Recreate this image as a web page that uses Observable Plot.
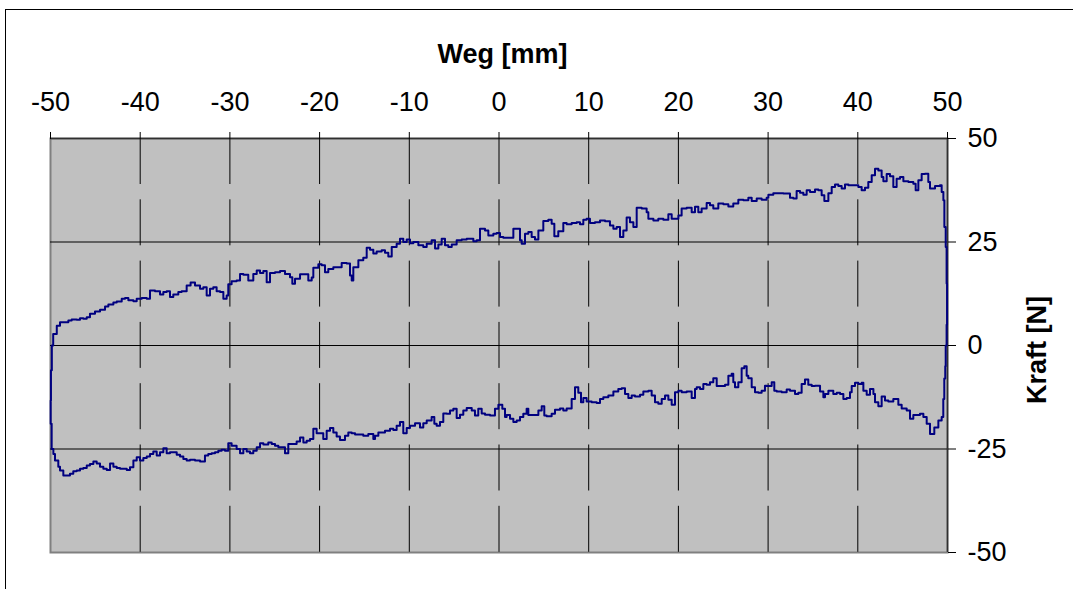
<!DOCTYPE html>
<html><head><meta charset="utf-8">
<script src="https://cdn.jsdelivr.net/npm/d3@7"></script>
<script src="https://cdn.jsdelivr.net/npm/@observablehq/plot@0.6"></script>
<style>
html,body{margin:0;padding:0;background:#fff;overflow:hidden;}
#wrap{position:relative;width:1073px;height:589px;overflow:hidden;}
#chart{position:absolute;left:0;top:0;}
.bl{position:absolute;background:#000;pointer-events:none;z-index:2;}
#bt{left:5px;top:9px;width:1100px;height:1px;}
#bv{left:5px;top:9px;width:1px;height:700px;}
</style></head><body>
<div id="wrap"><div id="chart"></div><div class="bl" id="bt"></div><div class="bl" id="bv"></div></div>
<script>
// Tick labels / grid positions
const wegTicks = [-50, -40, -30, -20, -10, 0, 10, 20, 30, 40, 50];
const kraftTicks = [-50, -25, 0, 25, 50];
const gridWeg = [-40, -30, -20, -10, 0, 10, 20, 30, 40];
const gridKraft = [-25, 0, 25];

// Upper branch (Hinweg): left rise, left -> right, right drop
const wegHin = [-49.68, -49.87, -49.98, -49.95, -49.85, -49.7, -49.3, -48.94, -48.01, -47.64, -47.08, -46.71, -46.34, -45.96, -45.6, -45.04, -44.48, -43.92, -43.55, -42.99, -42.62, -42.06, -41.69, -41.32, -40.76, -40.39, -39.83, -39.27, -38.91, -38.35, -37.79, -37.42, -37.05, -36.68, -36.31, -35.75, -35.38, -34.82, -34.38, -33.89, -33.33, -32.96, -32.59, -32.22, -31.85, -31.48, -31.1, -30.73, -30.36, -30.18, -29.81, -29.25, -28.87, -28.5, -27.95, -27.39, -27.01, -26.64, -26.27, -25.9, -25.53, -24.97, -24.41, -23.86, -23.3, -23.04, -22.74, -22.18, -21.63, -21.26, -20.88, -20.7, -20.14, -19.77, -19.4, -19.03, -18.47, -17.91, -17.54, -16.98, -16.61, -16.42, -16.24, -15.68, -15.13, -14.75, -14.38, -14.01, -13.64, -13.08, -12.71, -12.34, -11.96, -11.41, -11.04, -10.67, -10.29, -9.92, -9.55, -8.99, -8.44, -8.06, -7.51, -7.13, -6.76, -6.39, -6.02, -5.65, -5.27, -4.72, -4.16, -3.6, -3.23, -2.86, -2.49, -2.12, -1.56, -1.19, -0.63, -0.26, 0.11, 0.48, 1.41, 1.6, 2.08, 2.34, 2.53, 2.9, 3.27, 3.64, 4.01, 4.39, 4.94, 5.5, 5.87, 6.17, 6.61, 7.17, 7.54, 8.1, 8.66, 9.03, 9.4, 9.77, 10.14, 10.7, 11.26, 11.82, 12.37, 12.75, 13.12, 13.49, 13.86, 14.23, 14.6, 14.98, 15.35, 15.91, 16.46, 16.65, 17.21, 17.76, 18.32, 18.88, 19.25, 19.62, 20.0, 20.36, 20.92, 21.48, 21.85, 22.22, 22.59, 23.15, 23.52, 23.89, 24.45, 25.01, 25.57, 26.12, 26.68, 27.24, 27.8, 28.17, 28.73, 29.28, 29.84, 30.03, 30.58, 31.14, 31.7, 32.44, 32.81, 33.18, 33.56, 33.93, 34.3, 34.67, 35.23, 35.6, 35.97, 36.27, 36.72, 37.09, 37.46, 37.83, 38.2, 38.57, 38.95, 39.5, 40.06, 40.43, 40.8, 41.17, 41.55, 41.92, 42.29, 42.66, 42.85, 43.22, 43.59, 43.96, 44.33, 44.71, 45.08, 45.64, 46.19, 46.45, 46.75, 47.12, 47.49, 47.86, 48.05, 48.61, 49.16, 49.35, 49.54, 49.65, 49.8, 49.9, 49.95, 49.9, 49.8, 49.75, 49.64];
const kraftHin = [-25.0, -18.9, -13.3, -6.0, 0.0, 2.8, 4.8, 5.64, 6.05, 6.29, 6.21, 6.61, 6.45, 6.85, 7.66, 8.22, 8.62, 9.43, 9.92, 10.4, 10.6, 11.3, 11.5, 10.9, 10.7, 11.3, 11.5, 11.3, 13.3, 13.1, 12.3, 12.9, 13.1, 11.7, 12.3, 12.9, 13.1, 14.5, 15.2, 14.5, 13.7, 14.1, 12.1, 13.7, 14.1, 13.1, 12.9, 11.3, 12.1, 14.8, 15.5, 15.7, 17.3, 17.1, 15.7, 17.3, 18.1, 17.5, 18.0, 15.3, 17.5, 17.7, 18.0, 17.3, 16.5, 14.9, 16.1, 17.2, 17.2, 15.7, 16.4, 18.8, 19.6, 19.4, 17.7, 18.5, 18.9, 18.9, 19.9, 19.8, 16.9, 15.7, 18.9, 20.6, 21.2, 23.6, 23.1, 22.2, 22.7, 23.0, 22.4, 21.5, 23.8, 24.6, 25.8, 25.0, 25.6, 24.7, 25.0, 24.2, 23.8, 24.6, 25.4, 23.4, 24.4, 25.8, 24.2, 23.8, 24.4, 25.4, 25.6, 25.8, 25.8, 25.2, 25.4, 28.2, 27.8, 26.6, 27.0, 27.2, 26.2, 26.0, 26.0, 28.2, 28.2, 25.4, 24.6, 27.0, 27.4, 26.2, 25.6, 27.8, 30.1, 30.4, 29.4, 26.4, 27.6, 29.6, 29.3, 29.6, 29.8, 29.3, 30.4, 30.6, 29.6, 29.8, 30.2, 30.0, 29.0, 28.2, 28.6, 26.2, 27.8, 30.9, 29.8, 28.6, 33.3, 33.1, 32.2, 30.6, 30.2, 30.6, 30.4, 31.7, 30.6, 30.6, 31.4, 33.1, 33.3, 32.2, 33.5, 32.2, 33.1, 34.4, 33.9, 33.1, 34.3, 34.1, 33.6, 34.3, 35.2, 35.1, 35.7, 34.9, 35.5, 35.2, 35.7, 36.4, 36.8, 36.8, 36.7, 35.7, 35.5, 37.3, 36.9, 36.4, 37.5, 37.1, 37.7, 37.5, 36.3, 34.9, 36.8, 38.3, 38.9, 38.5, 37.9, 38.9, 38.7, 38.7, 38.3, 37.5, 38.1, 39.5, 41.1, 42.7, 42.3, 40.7, 39.7, 41.4, 40.9, 38.3, 40.3, 40.7, 39.7, 39.5, 39.1, 37.5, 39.9, 41.4, 41.5, 39.5, 37.9, 38.5, 38.7, 37.1, 35.1, 28.6, 23.8, 15.0, 5.0, 0.0, -5.0, -8.0, -12.9];

// Lower branch (Rueckweg): right -> left
const wegRueck = [49.53, 49.35, 48.98, 48.53, 48.05, 47.68, 47.31, 46.93, 46.56, 46.19, 45.82, 45.45, 44.89, 44.52, 43.96, 43.4, 43.03, 42.66, 42.29, 41.92, 41.74, 41.36, 40.99, 40.62, 40.43, 40.06, 39.69, 39.32, 39.13, 38.76, 38.39, 38.02, 37.65, 37.27, 36.72, 36.34, 36.16, 35.79, 35.23, 34.86, 34.48, 34.11, 33.74, 33.37, 33.0, 32.44, 32.07, 31.51, 30.96, 30.69, 30.4, 29.84, 29.65, 29.28, 28.91, 28.54, 28.17, 27.79, 27.61, 27.35, 27.05, 26.68, 26.31, 26.12, 25.94, 25.57, 25.2, 24.64, 24.27, 23.89, 23.52, 23.15, 22.78, 22.41, 22.04, 21.85, 21.48, 20.92, 20.36, 20.0, 19.62, 19.25, 18.88, 18.51, 18.14, 17.76, 17.39, 17.02, 16.65, 16.09, 15.72, 15.16, 14.79, 14.42, 14.05, 13.68, 13.3, 12.75, 12.19, 11.63, 11.26, 10.89, 10.33, 9.77, 9.4, 9.14, 8.84, 8.47, 8.1, 7.54, 7.17, 6.8, 6.24, 5.87, 5.31, 5.05, 4.76, 4.39, 3.64, 3.27, 3.08, 2.71, 2.34, 1.97, 1.6, 1.23, 0.85, 0.67, 0.37, -0.07, -0.45, -1.0, -1.56, -1.93, -2.31, -2.68, -3.04, -3.6, -3.98, -4.35, -4.72, -5.09, -5.46, -5.83, -6.21, -6.58, -6.95, -7.21, -7.51, -8.06, -8.44, -8.81, -9.36, -9.92, -10.29, -10.67, -11.04, -11.41, -11.78, -12.15, -12.71, -13.08, -13.45, -13.82, -14.01, -14.57, -15.13, -15.68, -16.05, -16.42, -16.8, -17.17, -17.73, -18.1, -18.47, -18.84, -19.21, -19.59, -19.96, -20.33, -20.7, -21.07, -21.44, -21.81, -22.18, -22.56, -23.12, -23.49, -23.86, -24.23, -24.6, -24.97, -25.34, -25.72, -26.27, -26.64, -27.01, -27.39, -27.76, -28.13, -28.5, -28.87, -29.25, -29.81, -30.18, -30.55, -30.92, -31.29, -31.66, -32.03, -32.41, -32.78, -33.33, -33.89, -34.45, -34.82, -35.19, -35.56, -35.93, -36.31, -36.68, -37.05, -37.42, -37.79, -38.16, -38.54, -38.91, -39.27, -39.65, -40.02, -40.39, -40.76, -41.14, -41.5, -41.87, -42.25, -42.62, -42.99, -43.36, -43.73, -44.11, -44.48, -44.85, -45.22, -45.6, -45.96, -46.34, -46.71, -47.08, -47.46, -47.83, -48.2, -48.57, -48.94, -49.13, -49.5, -49.68];
const kraftRueck = [-17.3, -18.1, -19.8, -21.4, -18.9, -17.3, -16.5, -16.8, -16.8, -17.7, -15.7, -15.2, -14.3, -12.9, -13.5, -13.3, -12.3, -14.7, -13.7, -11.7, -10.5, -11.9, -10.9, -9.0, -9.3, -9.0, -9.8, -11.3, -12.7, -12.9, -11.7, -11.4, -11.7, -10.9, -11.7, -12.5, -11.1, -9.7, -9.8, -9.5, -8.2, -9.3, -11.4, -11.7, -10.9, -10.6, -11.3, -11.1, -10.9, -8.9, -9.8, -9.7, -10.9, -11.4, -11.3, -10.1, -7.9, -7.3, -5.0, -5.5, -8.9, -10.1, -8.9, -6.8, -7.3, -9.5, -9.8, -9.8, -7.9, -8.9, -9.5, -9.3, -10.5, -10.1, -10.5, -12.7, -11.1, -11.3, -10.9, -11.3, -14.3, -13.1, -12.1, -12.9, -14.1, -13.7, -12.1, -10.9, -11.1, -11.9, -12.3, -12.1, -12.7, -11.7, -10.3, -10.5, -11.1, -12.1, -12.5, -12.9, -13.9, -13.7, -13.5, -12.7, -13.7, -11.4, -10.1, -12.9, -15.2, -15.7, -15.2, -15.5, -16.5, -17.1, -16.9, -14.7, -15.7, -16.8, -16.8, -15.3, -16.5, -17.3, -18.1, -18.5, -17.7, -16.8, -17.3, -15.3, -14.3, -15.3, -16.9, -16.7, -16.4, -15.3, -16.9, -15.7, -15.1, -15.7, -16.7, -17.5, -15.3, -15.7, -16.5, -16.4, -18.5, -19.4, -18.9, -17.3, -18.1, -18.8, -19.8, -18.8, -19.4, -19.9, -21.2, -18.5, -19.4, -20.4, -20.1, -20.6, -21.0, -21.0, -21.8, -22.6, -21.4, -21.8, -21.5, -21.5, -21.2, -21.0, -21.8, -22.8, -22.0, -21.0, -19.9, -20.6, -22.6, -21.2, -21.2, -20.1, -22.6, -23.0, -23.4, -22.2, -23.2, -23.8, -23.8, -26.0, -24.6, -24.6, -24.2, -23.8, -23.4, -23.9, -23.6, -24.6, -25.4, -26.0, -25.6, -25.0, -26.0, -25.0, -24.2, -23.6, -25.4, -25.2, -25.4, -25.8, -26.0, -26.2, -26.6, -28.0, -27.8, -27.6, -27.8, -27.4, -26.8, -26.4, -25.8, -25.8, -26.0, -24.8, -25.8, -26.6, -25.6, -26.2, -26.8, -27.2, -27.8, -27.0, -27.8, -29.4, -30.1, -29.8, -29.8, -29.6, -29.3, -28.5, -30.1, -29.8, -29.3, -28.5, -28.0, -28.6, -29.0, -29.6, -29.8, -30.2, -30.4, -31.0, -31.4, -31.4, -30.2, -29.3, -27.8, -26.2, -25.0];

const weg = wegHin.concat(wegRueck);
const kraft = kraftHin.concat(kraftRueck);

const tf = d => String(d);

const chart = Plot.plot({
  width: 1073,
  height: 589,
  marginLeft: 50,
  marginRight: 126,
  marginTop: 138,
  marginBottom: 37,
  style: {fontFamily: "'Liberation Sans', Arial, sans-serif", fontSize: "27px", color: "#000", background: "transparent"},
  x: {domain: [-50, 50]},
  y: {domain: [-50, 50]},
  marks: [
    Plot.frame({fill: "#c0c0c0", stroke: "#808080", strokeWidth: 2}),
    Plot.ruleX(gridWeg, {stroke: "#000", strokeWidth: 1, strokeDasharray: "46,15.3"}),
    Plot.ruleY(gridKraft, {stroke: "#000", strokeWidth: 1}),
    Plot.ruleY([50], {stroke: "#303030", strokeWidth: 1.5}),
    Plot.ruleX([50], {stroke: "#303030", strokeWidth: 1.5}),
    Plot.axisX(wegTicks, {anchor: "top", tickSize: 7, tickPadding: 21, tickFormat: tf, label: null, fontSize: 27}),
    Plot.axisY(kraftTicks, {anchor: "right", tickSize: 8, tickPadding: 12, tickFormat: tf, label: null, fontSize: 27}),
    Plot.line(weg, {x: weg, y: kraft, curve: "step-after", stroke: "#000080", strokeWidth: 2, strokeLinejoin: "round"}),
    Plot.text(["Weg [mm]"], {text: d => d, frameAnchor: "top", textAnchor: "middle", dx: 3.5, dy: -76, lineAnchor: "bottom", fontWeight: "bold", fontSize: 27, fill: "#000"}),
    Plot.text(["Kraft [N]"], {text: d => d, frameAnchor: "right", textAnchor: "middle", rotate: -90, dx: 98, dy: 4.5, lineAnchor: "bottom", fontWeight: "bold", fontSize: 27, fill: "#000"})
  ]
});
document.getElementById("chart").appendChild(chart);
</script>
</body></html>
